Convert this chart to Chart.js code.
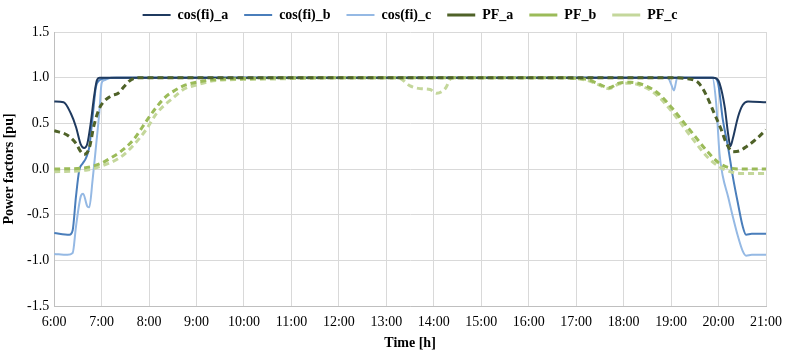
<!DOCTYPE html>
<html>
<head>
<meta charset="utf-8">
<script src="https://cdn.jsdelivr.net/npm/chart.js@4"></script>
<style>
  html, body { margin: 0; padding: 0; background: #fff; }
  #wrap { width: 785px; height: 356px; }
</style>
</head>
<body>
<div id="wrap"><canvas id="chart" width="785" height="356"></canvas></div>
<script>
// time in hours, values in pu
var cosA_t = [6.0, 6.2, 6.35, 6.46, 6.56, 6.63, 6.7, 6.77, 6.84, 6.9, 6.96, 7.1, 19.88, 19.96, 20.02, 20.13, 20.2, 20.25, 20.3, 20.41, 20.51, 20.62, 21.0];
var cosA_v = [0.74, 0.73, 0.61, 0.46, 0.27, 0.23, 0.28, 0.5, 0.79, 0.97, 1.0, 1.0, 1.0, 0.99, 0.94, 0.68, 0.39, 0.25, 0.33, 0.57, 0.70, 0.74, 0.73];

var cosB_t = [6.0, 6.32, 6.39, 6.46, 6.53, 6.6, 6.67, 6.74, 6.81, 6.88, 6.95, 7.05, 7.3, 19.9, 19.99, 20.09, 20.2, 20.3, 20.41, 20.51, 20.58, 20.7, 21.0];
var cosB_v = [-0.70, -0.72, -0.67, -0.30, -0.01, 0.06, 0.12, 0.24, 0.57, 0.90, 0.97, 0.99, 1.0, 1.0, 0.94, 0.54, 0.24, -0.08, -0.38, -0.63, -0.72, -0.71, -0.71];

var cosC_t = [6.0, 6.28, 6.39, 6.46, 6.56, 6.61, 6.7, 6.74, 6.81, 6.88, 6.95, 7.0, 7.05, 7.2, 18.93, 19.0, 19.06, 19.13, 19.87, 19.95, 20.02, 20.09, 20.2, 20.3, 20.41, 20.51, 20.58, 20.7, 21.0];
var cosC_v = [-0.93, -0.94, -0.92, -0.63, -0.30, -0.27, -0.41, -0.42, -0.12, 0.24, 0.61, 0.94, 0.97, 1.0, 1.0, 0.93, 0.86, 1.0, 1.0, 0.72, 0.17, -0.08, -0.30, -0.52, -0.74, -0.90, -0.95, -0.94, -0.94];

var pfA_t = [6.0, 6.28, 6.46, 6.56, 6.63, 6.74, 6.84, 6.95, 7.05, 7.2, 7.35, 7.47, 7.6, 7.8, 19.0, 19.3, 19.5, 19.6, 19.75, 19.9, 20.05, 20.15, 20.3, 20.45, 20.6, 20.8, 21.0];
var pfA_v = [0.42, 0.37, 0.28, 0.19, 0.16, 0.23, 0.48, 0.66, 0.74, 0.80, 0.83, 0.90, 0.97, 1.0, 1.0, 0.99, 0.97, 0.93, 0.80, 0.62, 0.44, 0.30, 0.19, 0.20, 0.25, 0.33, 0.43];

var pfB_t = [6.0, 6.6, 6.98, 7.19, 7.4, 7.67, 7.95, 8.16, 8.37, 8.51, 8.72, 9.0, 9.42, 10.0, 11.0, 16.5, 17.23, 17.44, 17.69, 17.9, 18.14, 18.42, 18.7, 19.0, 19.25, 19.5, 19.75, 20.0, 20.25, 20.5, 21.0];
var pfB_v = [0.0, 0.01, 0.06, 0.12, 0.19, 0.32, 0.53, 0.68, 0.80, 0.85, 0.91, 0.95, 0.98, 0.99, 1.0, 1.0, 0.98, 0.94, 0.89, 0.94, 0.95, 0.92, 0.84, 0.68, 0.52, 0.36, 0.20, 0.07, 0.01, 0.0, 0.0];

var pfC_t = [6.0, 6.7, 6.98, 7.4, 7.67, 7.95, 8.16, 8.37, 8.51, 8.72, 9.0, 9.42, 10.0, 11.0, 12.0, 13.25, 13.5, 13.71, 13.92, 14.06, 14.24, 14.38, 16.5, 17.23, 17.44, 17.69, 17.9, 18.14, 18.42, 18.7, 19.0, 19.25, 19.5, 19.75, 20.0, 20.25, 20.5, 21.0];
var pfC_v = [-0.03, -0.01, 0.03, 0.13, 0.26, 0.44, 0.61, 0.72, 0.78, 0.87, 0.92, 0.97, 0.98, 0.99, 1.0, 1.0, 0.91, 0.88, 0.87, 0.83, 0.88, 1.0, 1.0, 0.97, 0.93, 0.88, 0.93, 0.94, 0.90, 0.81, 0.64, 0.47, 0.30, 0.14, 0.03, -0.03, -0.05, -0.05];

var seriesNames = ['cos(fi)_a', 'cos(fi)_b', 'cos(fi)_c', 'PF_a', 'PF_b', 'PF_c'];
var yTicks = [-1.5, -1.0, -0.5, 0.0, 0.5, 1.0, 1.5];
var xTickHours = [6, 7, 8, 9, 10, 11, 12, 13, 14, 15, 16, 17, 18, 19, 20, 21];

function pts(t, v){
    var out = [];
    for(var i in t){
        out.push({x: t[i], y: v[i]});
    }
    return out;
}

function mkSet(name, t, v, color, width, dash, order){
    return {
        label: name,
        data: pts(t, v),
        borderColor: color,
        backgroundColor: color,
        borderWidth: width,
        borderDash: dash,
        pointRadius: 0,
        cubicInterpolationMode: 'monotone',
        fill: false,
        order: order
    };
}

var serif = "'Liberation Serif', 'Times New Roman', serif";

new Chart(document.getElementById('chart'), {
    type: 'line',
    data: {
        datasets: [
            mkSet(seriesNames[0], cosA_t, cosA_v, '#1f3a5f', 2, [], 3),
            mkSet(seriesNames[1], cosB_t, cosB_v, '#4a7ebb', 2, [], 4),
            mkSet(seriesNames[2], cosC_t, cosC_v, '#95b9e4', 2, [], 5),
            mkSet(seriesNames[3], pfA_t, pfA_v, '#4f6228', 3, [6, 4], 0),
            mkSet(seriesNames[4], pfB_t, pfB_v, '#9bbb59', 3, [6, 4], 1),
            mkSet(seriesNames[5], pfC_t, pfC_v, '#c4d79b', 3, [6, 4], 2)
        ]
    },
    options: {
        responsive: false,
        animation: false,
        devicePixelRatio: 1,
        layout: { padding: { left: 2, right: 0, top: -8, bottom: 6 } },
        plugins: {
            legend: {
                position: 'top',
                fullSize: false,
                labels: {
                    usePointStyle: true,
                    pointStyle: 'line',
                    pointStyleWidth: 28,
                    padding: 16,
                    color: '#000',
                    font: { family: serif, size: 14, weight: 'bold' },
                    sort: function(a, b){ return a.datasetIndex - b.datasetIndex; }
                }
            },
            tooltip: { enabled: false }
        },
        scales: {
            x: {
                type: 'linear',
                min: 6,
                max: 21,
                afterBuildTicks: function(axis){
                    axis.ticks = xTickHours.map(function(h){ return {value: h}; });
                },
                afterFit: function(axis){
                    // tick padding is added to the side margin; keep only half the last label
                    axis.paddingRight = 19;
                },
                ticks: {
                    color: '#000',
                    padding: 9,
                    maxRotation: 0,
                    font: { family: serif, size: 14, lineHeight: 1 },
                    callback: function(v){ return v + ':00'; }
                },
                grid: { color: '#d9d9d9', drawTicks: false },
                border: { color: '#bfbfbf' },
                title: {
                    display: true,
                    text: 'Time [h]',
                    color: '#000',
                    font: { family: serif, size: 14, weight: 'bold', lineHeight: 1 },
                    padding: { top: -2, bottom: 0 }
                }
            },
            y: {
                min: -1.5,
                max: 1.5,
                afterBuildTicks: function(axis){
                    axis.ticks = yTicks.map(function(v){ return {value: v}; });
                },
                ticks: {
                    color: '#000',
                    padding: 5,
                    font: { family: serif, size: 14 },
                    callback: function(v){ return v.toFixed(1); }
                },
                grid: { color: '#d9d9d9', drawTicks: false },
                border: { color: '#bfbfbf' },
                title: {
                    display: true,
                    text: 'Power factors [pu]',
                    color: '#000',
                    font: { family: serif, size: 14, weight: 'bold', lineHeight: 1 },
                    padding: { top: 0, bottom: 6 }
                }
            }
        }
    }
});
</script>
</body>
</html>
